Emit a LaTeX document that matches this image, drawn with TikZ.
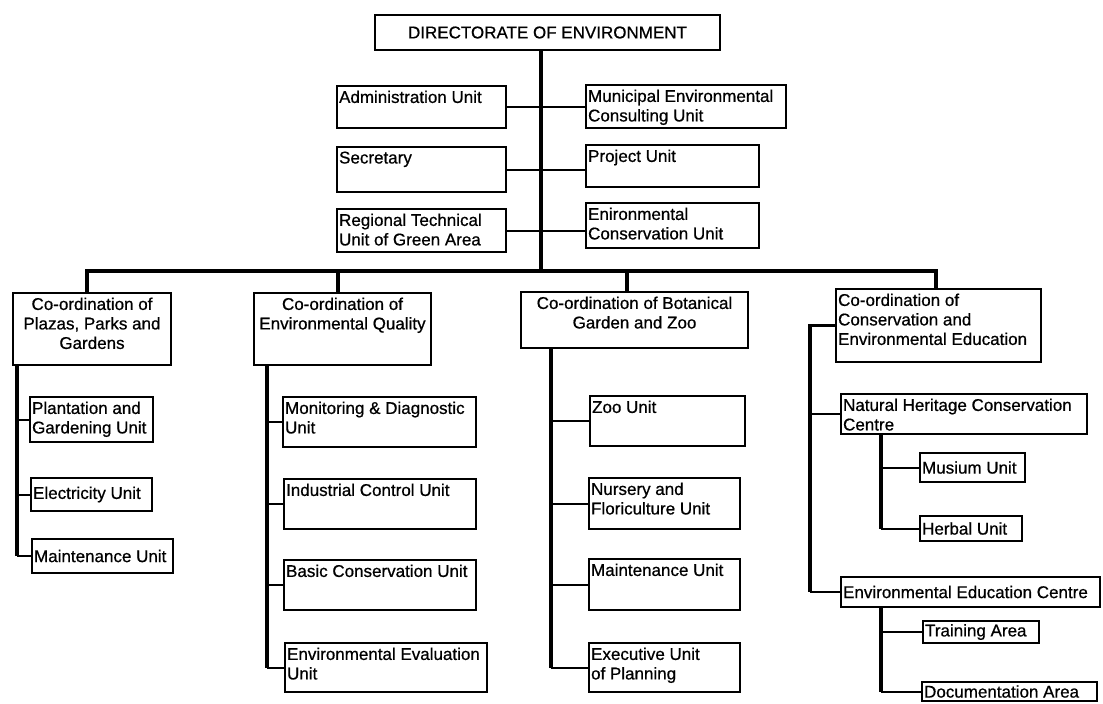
\documentclass[tikz,border=0pt]{standalone}
\usepackage{fontspec}
\setmainfont{Liberation Sans}[FakeBold=0.7]
\usetikzlibrary{fit}
\tikzset{
  unitbox/.style={draw, line width=2.2pt, inner sep=0pt},
  txt/.style={inner xsep=3pt, inner ysep=5.5pt, align=left, font=\fontsize{17}{19.5}\selectfont},
  spine/.style={line width=3.4pt, line join=miter},
  conn/.style={line width=2pt},
}
\newcommand\UBox[6]{%
  \node[unitbox, fit={(#2,#3) (#4,#5)}] (#1) {};
  \node[txt, anchor=north west] (#1-t) at (#1.north west) {#6};}
\newcommand\MBox[6]{%
  \node[unitbox, fit={(#2,#3) (#4,#5)}] (#1) {};
  \node[txt, inner ysep=0pt, anchor=west] (#1-t) at (#1.west) {#6};}
\newcommand\CBox[6]{%
  \node[unitbox, fit={(#2,#3) (#4,#5)}] (#1) {};
  \node[txt, align=center, anchor=north] (#1-t) at (#1.north) {#6};}
\begin{document}
\begin{tikzpicture}[x=1pt, y=-1pt]
\useasboundingbox (0,0) rectangle (1103,704);
% top
\node[unitbox, fit={(375,15) (720,50)}] (dir) {};
\node[txt, inner ysep=0pt] (dir-t) at (dir.center) {DIRECTORATE OF ENVIRONMENT};
\UBox{adm}{337}{86}{506}{128}{Administration Unit}
\UBox{sec}{337}{147}{506}{192}{Secretary}
\UBox{reg}{337}{209}{506}{252}{Regional Technical\\Unit of Green Area}
\UBox{mun}{586}{85}{786}{128}{Municipal Environmental\\Consulting Unit}
\UBox{prj}{586}{145}{759}{187}{Project Unit}
\UBox{ecu}{586}{203}{759}{248}{Enironmental\\Conservation Unit}
% coordinations
\CBox{c1}{13}{293}{171}{365}{Co-ordination of\\Plazas, Parks and\\Gardens}
\CBox{c2}{254}{293}{431}{365}{Co-ordination of\\Environmental Quality}
\CBox{c3}{521}{292}{748}{348}{Co-ordination of Botanical\\Garden and Zoo}
\UBox{c4}{836}{289}{1041}{362}{Co-ordination of\\Conservation and\\Environmental Education}
% column 1
\UBox{pla}{30}{397}{153}{442}{Plantation and\\Gardening Unit}
\MBox{ele}{31}{478}{152}{511}{Electricity Unit}
\MBox{mta}{32}{539}{173}{573}{Maintenance Unit}
% column 2
\UBox{mon}{283}{397}{476}{447}{Monitoring \& Diagnostic\\Unit}
\UBox{ind}{284}{479}{476}{529}{Industrial Control Unit}
\UBox{bas}{284}{560}{476}{610}{Basic Conservation Unit}
\UBox{eva}{285}{643}{487}{692}{Environmental Evaluation\\Unit}
% column 3
\UBox{zoo}{590}{396}{745}{446}{Zoo Unit}
\UBox{nur}{589}{478}{740}{529}{Nursery and\\Floriculture Unit}
\UBox{mtb}{589}{559}{740}{610}{Maintenance Unit}
\UBox{exe}{589}{643}{740}{692}{Executive Unit\\of Planning}
% column 4
\UBox{nhc}{841}{394}{1087}{434}{Natural Heritage Conservation\\Centre}
\MBox{mus}{920}{453}{1025}{482}{Musium Unit}
\MBox{her}{920}{516}{1022}{541}{Herbal Unit}
\MBox{eec}{841}{577}{1100}{607}{Environmental Education Centre}
\MBox{tra}{923}{621}{1039}{643}{Training Area}
\MBox{doc}{922}{682}{1097}{701}{Documentation Area}
% coordinates
\coordinate (tr) at (541,271);
\coordinate (bL) at (87,271);
\coordinate (bR) at (936,271);
\coordinate (d2) at (338,271);
\coordinate (d3) at (627,271);
\coordinate (v1) at (17,0);
\coordinate (v2) at (267,0);
\coordinate (v3) at (551,0);
\coordinate (v4) at (810,0);
\coordinate (v5) at (881,0);
% trunk and bar
\draw[spine] (dir.south -| tr) -- (tr);
\draw[spine] (c1.north -| bL) -- (bL) -- (bR) -- (c4.north -| bR);
\draw[spine] (d2) -- (c2.north -| d2);
\draw[spine] (d3) -- (c3.north -| d3);
% top side connectors
\draw[conn] (adm.east) -- (adm.east -| mun.west);
\draw[conn] (sec.east) -- (sec.east -| prj.west);
\draw[conn] (reg.east) -- (reg.east -| ecu.west);
% column 1
\draw[spine] (c1.south -| v1) -- (mta.west -| v1);
\draw[conn] (pla.west -| v1) -- (pla.west);
\draw[conn] (ele.west -| v1) -- (ele.west);
\draw[conn] (mta.west -| v1) -- (mta.west);
% column 2
\draw[spine] (c2.south -| v2) -- (eva.west -| v2);
\draw[conn] (mon.west -| v2) -- (mon.west);
\draw[conn] (ind.west -| v2) -- (ind.west);
\draw[conn] (bas.west -| v2) -- (bas.west);
\draw[conn] (eva.west -| v2) -- (eva.west);
% column 3
\draw[spine] (c3.south -| v3) -- (exe.west -| v3);
\draw[conn] (zoo.west -| v3) -- (zoo.west);
\draw[conn] (nur.west -| v3) -- (nur.west);
\draw[conn] (mtb.west -| v3) -- (mtb.west);
\draw[conn] (exe.west -| v3) -- (exe.west);
% column 4
\draw[spine] (c4.west) -- (c4.west -| v4) -- (eec.west -| v4);
\draw[conn] (nhc.west -| v4) -- (nhc.west);
\draw[conn] (eec.west -| v4) -- (eec.west);
\draw[spine] (nhc.south -| v5) -- (her.west -| v5);
\draw[conn] (mus.west -| v5) -- (mus.west);
\draw[conn] (her.west -| v5) -- (her.west);
\draw[spine] (eec.south -| v5) -- (doc.west -| v5);
\draw[conn] (tra.west -| v5) -- (tra.west);
\draw[conn] (doc.west -| v5) -- (doc.west);
\end{tikzpicture}
\end{document}
